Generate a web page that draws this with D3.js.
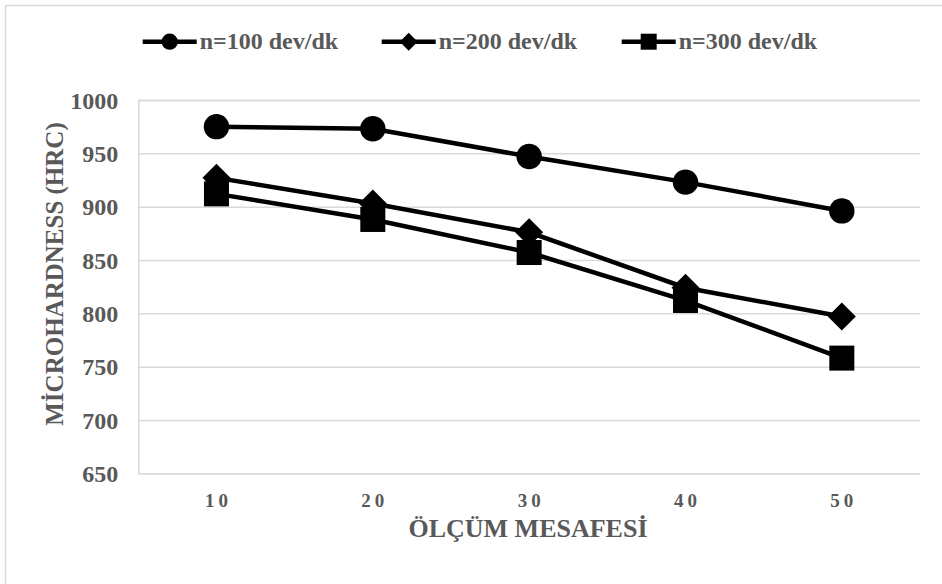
<!DOCTYPE html>
<html>
<head>
<meta charset="utf-8">
<script src="https://cdnjs.cloudflare.com/ajax/libs/d3/7.8.5/d3.min.js"></script>
<style>
    body { margin: 0; background: #fff; }
    text { font-family: "Liberation Serif", "Times New Roman", serif; font-weight: bold; fill: #595959; }
</style>
</head>
<body>
<svg id="chart"></svg>
<script>
let categories = ["10", "20", "30", "40", "50"];
let seriesNames = ["n=100 dev/dk", "n=200 dev/dk", "n=300 dev/dk"];
let n100 = [975, 973, 947, 923, 896];
let n200 = [927, 903, 876, 824, 797];
let n300 = [912, 888, 857, 812, 758];
let yTicks = [650, 700, 750, 800, 850, 900, 950, 1000];
let markerTypes = ["circle", "diamond", "square"];

function drawChart() {
    let width = 942, height = 584;
    let margin = {left: 138.3, right: 22, top: 100, bottom: 110.7};
    let svg = d3.select("#chart").attr("width", width).attr("height", height);
    let serif = "'Liberation Serif', 'Times New Roman', serif";

    svg.append("rect")
        .attr("x", 5.5).attr("y", 5.5)
        .attr("width", 940).attr("height", 600)
        .attr("fill", "#fff")
        .attr("stroke", "#d9d9d9")
        .attr("stroke-width", 1.5);

    let x = d3.scaleBand().domain(categories)
        .range([margin.left, width - margin.right]);
    let y = d3.scaleLinear().domain([650, 1000])
        .range([height - margin.bottom, margin.top]);

    // grid lines + y labels
    let yAxis = d3.axisLeft(y)
        .tickValues(yTicks)
        .tickFormat(d3.format("d"))
        .tickSize(-(width - margin.right - margin.left))
        .tickPadding(20);
    let gy = svg.append("g")
        .attr("transform", "translate(" + margin.left + ",0)")
        .attr("font-family", serif)
        .call(yAxis);
    gy.select(".domain").attr("stroke", "#d9d9d9").attr("stroke-width", 1.5);
    gy.selectAll(".tick line").attr("stroke", "#d9d9d9").attr("stroke-width", 1.5);
    gy.selectAll(".tick text")
        .attr("fill", "#595959")
        .style("font-size", "24px")
        .attr("dy", "0.34em");

    // x labels
    let xAxis = d3.axisBottom(x).tickSize(0).tickPadding(20);
    let gx = svg.append("g")
        .attr("transform", "translate(0," + (height - margin.bottom) + ")")
        .attr("font-family", serif)
        .call(xAxis);
    gx.select(".domain").remove();
    gx.selectAll(".tick text")
        .attr("fill", "#595959")
        .attr("dx", "2px")
        .style("font-size", "19px")
        .style("letter-spacing", "4px");

    // axis titles
    svg.append("text")
        .attr("x", 528)
        .attr("y", 537)
        .attr("text-anchor", "middle")
        .style("font-size", "26px")
        .text("ÖLÇÜM MESAFESİ");
    svg.append("text")
        .attr("transform", "translate(63,274) rotate(-90)")
        .attr("text-anchor", "middle")
        .style("font-size", "25px")
        .text("MİCROHARDNESS (HRC)");

    let allSeries = [n100, n200, n300];
    let line = d3.line()
        .x((d, i) => x(categories[i]) + x.bandwidth() / 2)
        .y(d => y(d));

    allSeries.forEach(function (values, s) {
        svg.append("path")
            .datum(values)
            .attr("d", line)
            .attr("fill", "none")
            .attr("stroke", "#000")
            .attr("stroke-width", 4.5);
        values.forEach(function (v, i) {
            let cx = x(categories[i]) + x.bandwidth() / 2;
            drawMarker(svg, markerTypes[s], cx, y(v), 1);
        });
    });

    // legend
    let legendX = [142.7, 381.7, 621.7];
    let legendY = 41.7;
    seriesNames.forEach(function (name, s) {
        let lx = legendX[s];
        svg.append("line")
            .attr("x1", lx).attr("x2", lx + 54)
            .attr("y1", legendY).attr("y2", legendY)
            .attr("stroke", "#000")
            .attr("stroke-width", 4.5);
        drawMarker(svg, markerTypes[s], lx + 27, legendY, 0.64);
        svg.append("text")
            .attr("x", lx + 57)
            .attr("y", legendY + 7)
            .style("font-size", "24px")
            .text(name);
    });
}

function drawMarker(svg, type, cx, cy, k) {
    if (type === "circle") {
        svg.append("circle")
            .attr("cx", cx).attr("cy", cy)
            .attr("r", 12.7 * k)
            .attr("fill", "#000");
    } else if (type === "diamond") {
        let r = 14 * k;
        svg.append("path")
            .attr("d", "M" + cx + "," + (cy - r) + "L" + (cx + r) + "," + cy +
                "L" + cx + "," + (cy + r) + "L" + (cx - r) + "," + cy + "Z")
            .attr("fill", "#000");
    } else {
        let h = 12.5 * k;
        svg.append("rect")
            .attr("x", cx - h).attr("y", cy - h)
            .attr("width", 2 * h).attr("height", 2 * h)
            .attr("fill", "#000");
    }
}

drawChart();
</script>
</body>
</html>
